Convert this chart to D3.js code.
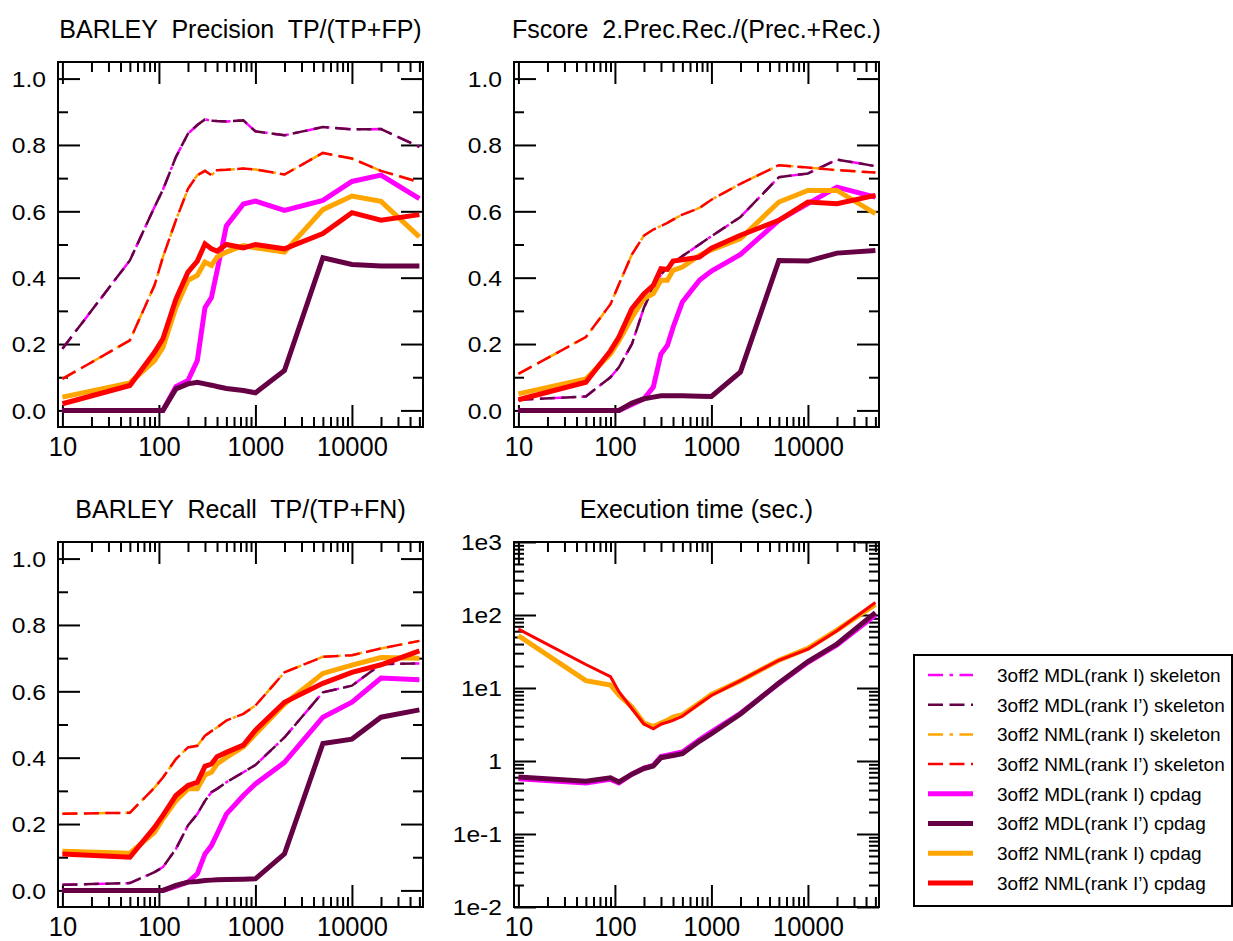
<!DOCTYPE html>
<html>
<head>
<meta charset="utf-8">
<script src="https://cdn.jsdelivr.net/npm/d3@7"></script>
<style>
  body { margin: 0; background: #fff; }
  svg { display: block; font-family: "Liberation Sans", Arial, Helvetica, sans-serif; }
</style>
</head>
<body>
<svg id="chart"></svg>
<script>
// sample sizes (x axis, log)
const sampleSizes = [10, 50, 90, 110, 150, 200, 250, 300, 350, 400, 500, 750, 1000, 2000, 5000, 10000, 20000, 50000];

const seriesNames = [
  "3off2 MDL(rank I) skeleton",
  "3off2 MDL(rank I\u2019) skeleton",
  "3off2 NML(rank I) skeleton",
  "3off2 NML(rank I\u2019) skeleton",
  "3off2 MDL(rank I) cpdag",
  "3off2 MDL(rank I\u2019) cpdag",
  "3off2 NML(rank I) cpdag",
  "3off2 NML(rank I\u2019) cpdag"
];

// precision
const precMdlSkeleton = [0.186, 0.452, 0.613, 0.665, 0.764, 0.834, 0.86, 0.877, 0.873, 0.872, 0.871, 0.874, 0.841, 0.829, 0.854, 0.847, 0.848, 0.794];
const precNmlSkeleton = [0.095, 0.211, 0.377, 0.462, 0.573, 0.668, 0.709, 0.722, 0.709, 0.724, 0.725, 0.729, 0.726, 0.711, 0.776, 0.759, 0.722, 0.688];
const precMdlICpdag   = [0, 0, 0, 0, 0.072, 0.09, 0.15, 0.31, 0.34, 0.42, 0.556, 0.622, 0.631, 0.603, 0.633, 0.69, 0.709, 0.638];
const precMdlIpCpdag  = [0, 0, 0, 0, 0.065, 0.08, 0.085, 0.08, 0.076, 0.072, 0.066, 0.06, 0.053, 0.12, 0.46, 0.44, 0.435, 0.435];
const precNmlICpdag   = [0.04, 0.083, 0.15, 0.19, 0.31, 0.392, 0.407, 0.447, 0.437, 0.462, 0.477, 0.497, 0.49, 0.477, 0.605, 0.646, 0.63, 0.523];
const precNmlIpCpdag  = [0.02, 0.075, 0.175, 0.216, 0.335, 0.417, 0.45, 0.502, 0.487, 0.48, 0.5, 0.49, 0.5, 0.487, 0.533, 0.596, 0.573, 0.59];

// fscore
const fMdlSkeleton = [0.032, 0.042, 0.1, 0.13, 0.2, 0.31, 0.37, 0.41, 0.43, 0.445, 0.465, 0.5, 0.525, 0.583, 0.703, 0.714, 0.756, 0.736];
const fNmlSkeleton = [0.11, 0.221, 0.32, 0.38, 0.47, 0.527, 0.545, 0.556, 0.565, 0.575, 0.59, 0.61, 0.635, 0.683, 0.739, 0.732, 0.724, 0.717];
const fMdlICpdag   = [0, 0, 0, 0, 0.018, 0.035, 0.07, 0.17, 0.196, 0.25, 0.327, 0.392, 0.42, 0.47, 0.573, 0.623, 0.673, 0.643];
const fMdlIpCpdag  = [0, 0, 0, 0, 0.022, 0.035, 0.04, 0.044, 0.044, 0.044, 0.044, 0.043, 0.042, 0.116, 0.452, 0.45, 0.474, 0.482];
const fNmlICpdag   = [0.05, 0.095, 0.17, 0.21, 0.28, 0.337, 0.352, 0.392, 0.392, 0.422, 0.432, 0.467, 0.484, 0.518, 0.628, 0.663, 0.663, 0.593];
const fNmlIpCpdag  = [0.032, 0.085, 0.18, 0.221, 0.307, 0.352, 0.377, 0.427, 0.425, 0.45, 0.454, 0.462, 0.489, 0.528, 0.573, 0.628, 0.623, 0.648];

// recall
const recMdlSkeleton = [0.017, 0.022, 0.055, 0.07, 0.125, 0.196, 0.23, 0.27, 0.296, 0.306, 0.326, 0.356, 0.378, 0.461, 0.597, 0.617, 0.682, 0.684];
const recNmlSkeleton = [0.231, 0.234, 0.31, 0.34, 0.396, 0.431, 0.436, 0.466, 0.48, 0.491, 0.512, 0.532, 0.557, 0.657, 0.704, 0.709, 0.729, 0.752];
const recMdlICpdag   = [0, 0, 0, 0, 0.012, 0.025, 0.05, 0.11, 0.135, 0.17, 0.23, 0.286, 0.321, 0.386, 0.522, 0.567, 0.64, 0.635];
const recMdlIpCpdag  = [0, 0, 0, 0, 0.015, 0.025, 0.027, 0.03, 0.031, 0.032, 0.033, 0.034, 0.035, 0.11, 0.443, 0.456, 0.522, 0.544];
const recNmlICpdag   = [0.118, 0.112, 0.175, 0.216, 0.27, 0.306, 0.306, 0.348, 0.356, 0.381, 0.401, 0.433, 0.471, 0.562, 0.654, 0.679, 0.702, 0.7];
const recNmlIpCpdag  = [0.11, 0.1, 0.19, 0.226, 0.286, 0.316, 0.326, 0.374, 0.381, 0.403, 0.416, 0.438, 0.483, 0.567, 0.624, 0.657, 0.68, 0.722];

// execution time (sec.)
const timeMdlI  = [0.57, 0.5, 0.56, 0.5, 0.66, 0.8, 0.87, 1.15, 1.2, 1.25, 1.33, 1.95, 2.5, 4.5, 11.5, 22.5, 39, 100];
const timeMdlIp = [0.605, 0.527, 0.59, 0.517, 0.66, 0.79, 0.855, 1.11, 1.15, 1.19, 1.26, 1.86, 2.36, 4.4, 11.7, 23, 40, 108];
const timeNmlI  = [52, 12.6, 11, 8, 5.5, 3.3, 2.97, 3.3, 3.6, 4.0, 4.3, 6.2, 8.2, 12.6, 24, 35, 62, 140];
const timeNmlIp = [64, 21, 14.3, 8.9, 5.2, 3.2, 2.76, 3.2, 3.4, 3.6, 4.1, 6.1, 7.9, 12.6, 24, 34, 61, 148];

const linTicks = [0, 0.2, 0.4, 0.6, 0.8, 1.0];
const linMinor = [0.1, 0.3, 0.5, 0.7, 0.9];
const xTicks = [10, 100, 1000, 10000];
const timeTicks = [1e-2, 1e-1, 1, 1e1, 1e2, 1e3];
const timeLabels = ["1e-2", "1e-1", "1", "1e1", "1e2", "1e3"];

const magenta = "#ff00ff", purple = "#660044", orange = "#ffa500", red = "#ff0000";
const dashI = "15,6.5,3.5,6.5", dashIp = "15,6.5";

const size = 365;
const svg = d3.select("#chart").attr("width", 1233).attr("height", 941);

function minorLog(lo, hi) {
  const t = [];
  for (let e = Math.floor(Math.log10(lo)); e <= Math.ceil(Math.log10(hi)); e++) {
    for (let m = 2; m <= 9; m++) {
      const v = m * Math.pow(10, e);
      if (v > lo && v < hi) t.push(v);
    }
  }
  return t;
}

function styleAxis(a) {
  a.select(".domain").remove();
  a.selectAll("line").attr("stroke", "#000").attr("stroke-width", 2);
}

function metricSeries(mdlSkel, nmlSkel, mdlI, mdlIp, nmlI, nmlIp) {
  return [
    {values: mdlSkel, color: magenta, width: 2.5, dash: dashI},
    {values: mdlSkel, color: purple, width: 2.5, dash: dashIp},
    {values: nmlSkel, color: orange, width: 2.5, dash: dashI},
    {values: nmlSkel, color: red, width: 2.5, dash: dashIp},
    {values: mdlI, color: magenta, width: 5},
    {values: mdlIp, color: purple, width: 5},
    {values: nmlI, color: orange, width: 5},
    {values: nmlIp, color: red, width: 5}
  ];
}

function drawPanel(p) {
  const g = svg.append("g").attr("transform", "translate(" + p.left + "," + p.top + ")");
  const x = d3.scaleLog().domain([9, 54500]).range([0, size]);
  const y = p.log
    ? d3.scaleLog().domain([1e-2, 1e3]).range([size, 0])
    : d3.scaleLinear().domain([-0.05, 1.05]).range([size, 0]);

  const yMajor = p.log ? timeTicks : linTicks;
  const yMinor = p.log ? minorLog(1e-2, 1e3) : linMinor;
  const xMinor = minorLog(9, 54500);

  // bottom
  g.append("g").attr("transform", "translate(0," + size + ")")
    .call(d3.axisBottom(x).tickValues(xTicks).tickSize(-22).tickFormat(d3.format("d")))
    .call(styleAxis)
    .call(a => a.selectAll("text")
      .attr("y", 0).attr("dy", null)
      .attr("transform", "translate(0,29) scale(1.02,1.12)")
      .attr("fill", "#000")
      .style("font-size", "25px")
      .style("font-family", "Liberation Sans, Arial, sans-serif"));
  g.append("g").attr("transform", "translate(0," + size + ")")
    .call(d3.axisBottom(x).tickValues(xMinor).tickSize(-10).tickFormat(""))
    .call(styleAxis);
  // top
  g.append("g").call(d3.axisTop(x).tickValues(xTicks).tickSize(-22).tickFormat("")).call(styleAxis);
  g.append("g").call(d3.axisTop(x).tickValues(xMinor).tickSize(-10).tickFormat("")).call(styleAxis);
  // left
  g.append("g")
    .call(d3.axisLeft(y).tickValues(yMajor).tickSize(-22).tickPadding(13)
      .tickFormat((d, i) => p.log ? timeLabels[i] : d3.format(".1f")(d)))
    .call(styleAxis)
    .call(a => a.selectAll("text")
      .attr("x", 0)
      .attr("transform", "translate(-12,0) scale(1.12,1)")
      .attr("fill", "#000")
      .attr("dy", "0.36em")
      .style("font-size", "22px")
      .style("font-family", "Liberation Sans, Arial, sans-serif"));
  g.append("g").call(d3.axisLeft(y).tickValues(yMinor).tickSize(-10).tickFormat("")).call(styleAxis);
  // right
  g.append("g").attr("transform", "translate(" + size + ",0)")
    .call(d3.axisRight(y).tickValues(yMajor).tickSize(-22).tickFormat("")).call(styleAxis);
  g.append("g").attr("transform", "translate(" + size + ",0)")
    .call(d3.axisRight(y).tickValues(yMinor).tickSize(-10).tickFormat("")).call(styleAxis);

  const line = d3.line()
    .x((d, i) => x(sampleSizes[i]))
    .y(d => y(d));

  g.append("g").selectAll("path")
    .data(p.series)
    .join("path")
      .attr("fill", "none")
      .attr("stroke", d => d.color)
      .attr("stroke-width", d => d.width)
      .attr("stroke-dasharray", d => d.dash || null)
      .attr("d", d => line(d.values));

  g.append("rect")
    .attr("width", size).attr("height", size)
    .attr("fill", "none").attr("stroke", "#000").attr("stroke-width", 2);

  g.append("text")
    .attr("x", size / 2).attr("y", -24)
    .attr("text-anchor", "middle")
    .style("font-size", "25px")
    .style("white-space", "pre")
    .text(p.title);
}

drawPanel({
  title: "BARLEY  Precision  TP/(TP+FP)", left: 58, top: 62,
  series: metricSeries(precMdlSkeleton, precNmlSkeleton, precMdlICpdag, precMdlIpCpdag, precNmlICpdag, precNmlIpCpdag)
});
drawPanel({
  title: "Fscore  2.Prec.Rec./(Prec.+Rec.)", left: 514, top: 62,
  series: metricSeries(fMdlSkeleton, fNmlSkeleton, fMdlICpdag, fMdlIpCpdag, fNmlICpdag, fNmlIpCpdag)
});
drawPanel({
  title: "BARLEY  Recall  TP/(TP+FN)", left: 58, top: 542,
  series: metricSeries(recMdlSkeleton, recNmlSkeleton, recMdlICpdag, recMdlIpCpdag, recNmlICpdag, recNmlIpCpdag)
});
drawPanel({
  title: "Execution time (sec.)", left: 514, top: 542, log: true,
  series: [
    {values: timeMdlI, color: magenta, width: 5},
    {values: timeMdlIp, color: purple, width: 5},
    {values: timeNmlI, color: orange, width: 5},
    {values: timeNmlIp, color: red, width: 3}
  ]
});

// legend
const legendStyles = [
  {color: magenta, width: 2.5, dash: dashI},
  {color: purple, width: 2.5, dash: dashIp},
  {color: orange, width: 2.5, dash: dashI},
  {color: red, width: 2.5, dash: dashIp},
  {color: magenta, width: 5},
  {color: purple, width: 5},
  {color: orange, width: 5},
  {color: red, width: 5}
];

const legend = svg.append("g").attr("transform", "translate(914,655)");
legend.append("rect")
  .attr("width", 318).attr("height", 251)
  .attr("fill", "#fff").attr("stroke", "#000").attr("stroke-width", 2);

const rows = legend.selectAll(".row")
  .data(seriesNames)
  .join("g")
    .attr("class", "row")
    .attr("transform", (d, i) => "translate(0," + (20 + i * 29.7) + ")");

rows.append("line")
  .attr("x1", 14).attr("x2", 59)
  .attr("stroke", (d, i) => legendStyles[i].color)
  .attr("stroke-width", (d, i) => legendStyles[i].width)
  .attr("stroke-dasharray", (d, i) => legendStyles[i].dash || null);

rows.append("text")
  .attr("x", 83).attr("dy", "0.36em")
  .style("font-size", "19px")
  .text(d => d);
</script>
</body>
</html>
